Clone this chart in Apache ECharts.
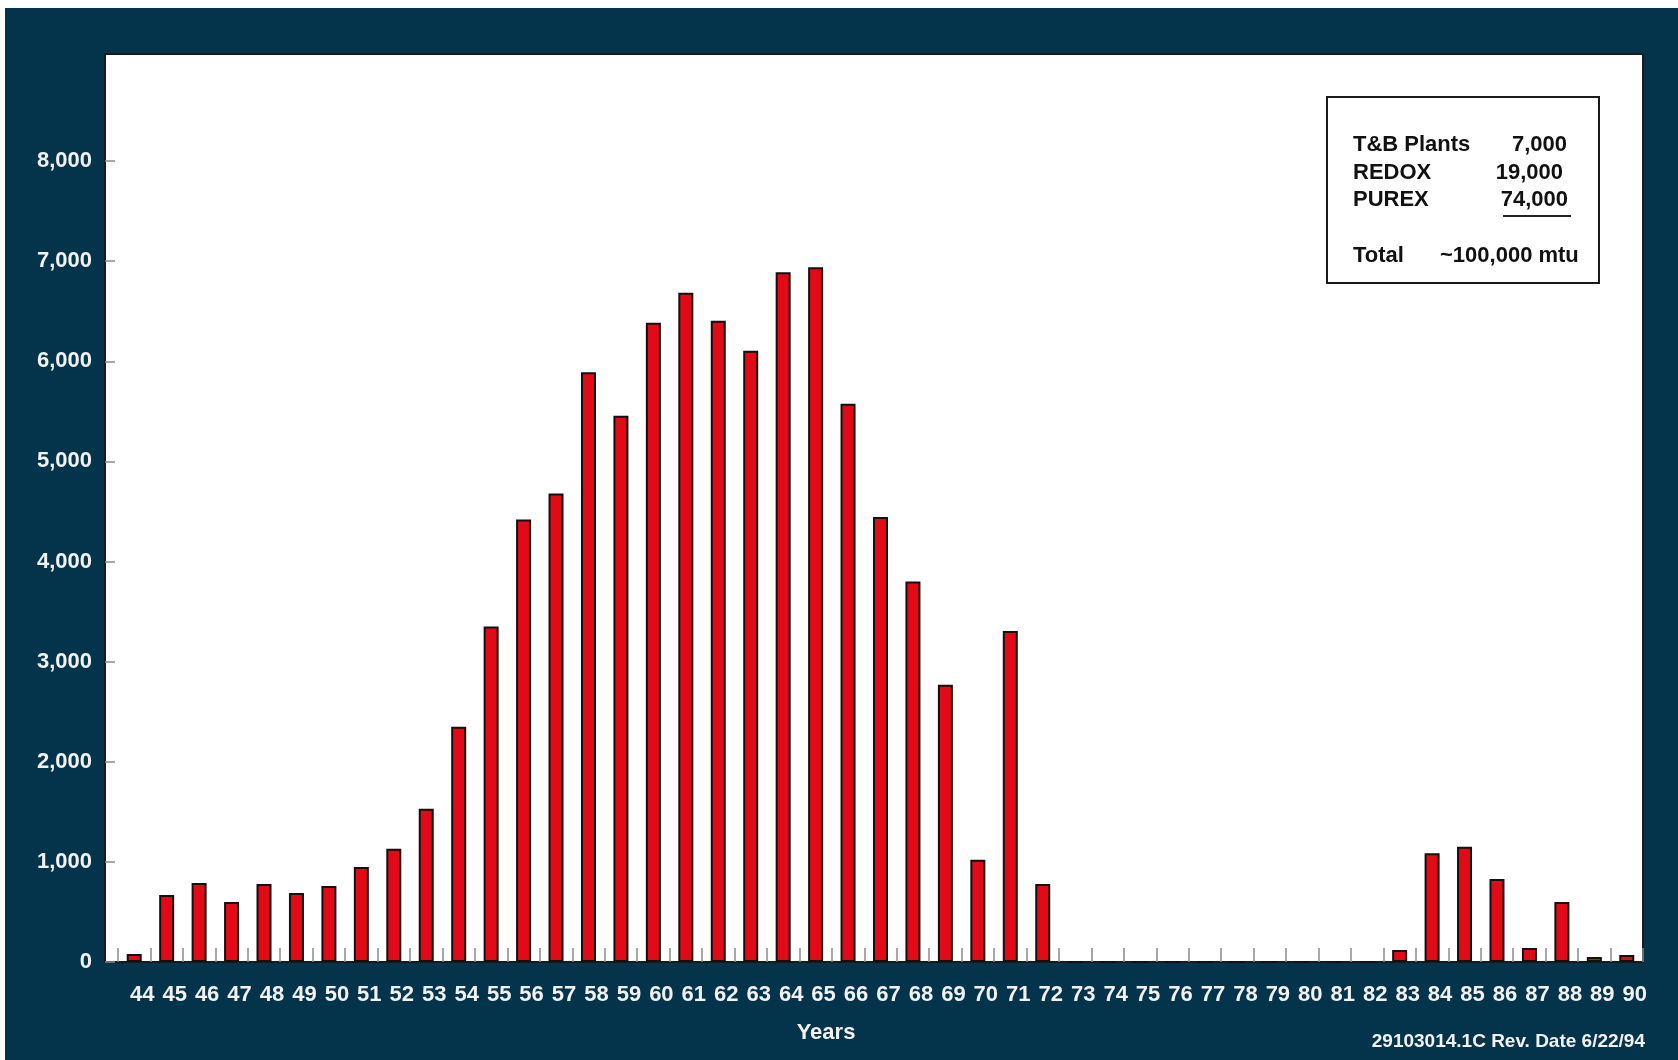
<!DOCTYPE html>
<html>
<head>
<meta charset="utf-8">
<script src="https://cdn.jsdelivr.net/npm/echarts/dist/echarts.min.js"></script>
<style>
  html, body { margin: 0; padding: 0; background: #fff; }
  #main { width: 1678px; height: 1060px; }
</style>
</head>
<body>
<div id="main"></div>
<script>
// 年份 (19xx)
var years = ['44', '45', '46', '47', '48', '49', '50', '51', '52', '53', '54', '55', '56', '57', '58', '59',
  '60', '61', '62', '63', '64', '65', '66', '67', '68', '69', '70', '71', '72', '73', '74', '75', '76', '77',
  '78', '79', '80', '81', '82', '83', '84', '85', '86', '87', '88', '89', '90'];
// mtu per year
var mtu = [80, 670, 790, 600, 780, 690, 760, 950, 1130, 1530, 2350, 3350, 4420, 4680, 5890, 5455,
  6385, 6685, 6405, 6105, 6890, 6940, 5575, 4445, 3800, 2770, 1020, 3305, 780, 0, 0, 0, 0, 0,
  0, 0, 0, 0, 0, 120, 1085, 1150, 830, 140, 600, 50, 70];
// 右上角的表格
var plantNames = ['T&B Plants', 'REDOX', 'PUREX'];
var plantTotals = ['7,000', '19,000', '74,000'];
var totalText = '~100,000 mtu';
var yTicks = [0, 8000, 1000]; // min, max, interval

var font = '"Liberation Sans", Arial, Helvetica, sans-serif';
var dark = '#04344b';
var light = '#f2f2f2';

var chart = null;
var option = {
  backgroundColor: dark,
  animation: false,
  grid: [
    { // 白色边框
      left: 105, top: 54, right: 35, bottom: 98,
      show: true, backgroundColor: '#fff', borderColor: '#1a1a1a', borderWidth: 2
    },
    { // 数据区
      left: 118, top: 161, right: 35, bottom: 98
    }
  ],
  xAxis: [
    { gridIndex: 0, type: 'value', show: false },
    {
      gridIndex: 1,
      type: 'category',
      data: years,
      boundaryGap: true,
      axisLine: { show: false },
      axisTick: {
        show: true,
        inside: true,
        length: 14,
        lineStyle: { color: '#8a8a8a', width: 1.5 }
      },
      axisLabel: {
        interval: 0,
        margin: 22,
        padding: [0, 0, 0, 16],
        color: light,
        fontSize: 22,
        fontWeight: 'bold',
        fontFamily: font
      }
    }
  ],
  yAxis: [
    { gridIndex: 0, type: 'value', show: false },
    {
      gridIndex: 1,
      type: 'value',
      min: yTicks[0],
      max: yTicks[1],
      interval: yTicks[2],
      offset: 13,
      axisLine: { show: false },
      splitLine: { show: false },
      axisTick: {
        show: true,
        inside: true,
        length: 10,
        lineStyle: { color: '#8a8a8a', width: 1.5 }
      },
      axisLabel: {
        margin: 13,
        color: light,
        fontSize: 22,
        fontWeight: 'bold',
        fontFamily: font,
        formatter: function (v) {
          return v.toLocaleString('en-US');
        }
      }
    }
  ],
  series: [{
    type: 'bar',
    xAxisIndex: 1,
    yAxisIndex: 1,
    data: mtu,
    barWidth: 15,
    itemStyle: {
      color: '#e30a17',
      borderColor: '#111',
      borderWidth: 2
    }
  }],
  graphic: []
};

function buildGraphic() {
  var g = [];
  // 左上白边
  g.push({ type: 'rect', shape: { x: 0, y: 0, width: 1678, height: 8 }, style: { fill: '#fff' }, silent: true });
  g.push({ type: 'rect', shape: { x: 0, y: 0, width: 5, height: 1060 }, style: { fill: '#fff' }, silent: true });
  // 坐标轴名称
  g.push({
    type: 'text', x: 826, y: 1033,
    style: { text: 'Years', align: 'center', verticalAlign: 'middle', fill: light, font: 'bold 22px ' + font }
  });
  g.push({
    type: 'text', x: 1645, y: 1042,
    style: { text: '29103014.1C Rev. Date 6/22/94', align: 'right', verticalAlign: 'middle', fill: light, font: 'bold 19px ' + font }
  });
  // 表格框
  g.push({
    type: 'rect', z: 10,
    shape: { x: 1327, y: 97, width: 272, height: 186 },
    style: { fill: '#fff', stroke: '#1a1a1a', lineWidth: 2 }
  });
  var rowY = [145, 173, 200];
  var valX = [1567, 1563, 1568];
  for (var i = 0; i < plantNames.length; i++) {
    g.push({
      type: 'text', z: 11, x: 1353, y: rowY[i],
      style: { text: plantNames[i], align: 'left', verticalAlign: 'middle', fill: '#111', font: 'bold 22px ' + font }
    });
    g.push({
      type: 'text', z: 11, x: valX[i], y: rowY[i],
      style: { text: plantTotals[i], align: 'right', verticalAlign: 'middle', fill: '#111', font: 'bold 22px ' + font }
    });
  }
  g.push({
    type: 'line', z: 11,
    shape: { x1: 1503, y1: 216, x2: 1571, y2: 216 },
    style: { stroke: '#222', lineWidth: 2 }
  });
  g.push({
    type: 'text', z: 11, x: 1353, y: 256,
    style: { text: 'Total', align: 'left', verticalAlign: 'middle', fill: '#111', font: 'bold 22px ' + font }
  });
  g.push({
    type: 'text', z: 11, x: 1440, y: 256,
    style: { text: totalText, align: 'left', verticalAlign: 'middle', fill: '#111', font: 'bold 22px ' + font }
  });
  return g;
}

function initChart() {
  chart = echarts.init(document.getElementById('main'), null, { width: 1678, height: 1060 });
  option.graphic = buildGraphic();
  chart.setOption(option);
  return chart;
}
initChart();
</script>
</body>
</html>
